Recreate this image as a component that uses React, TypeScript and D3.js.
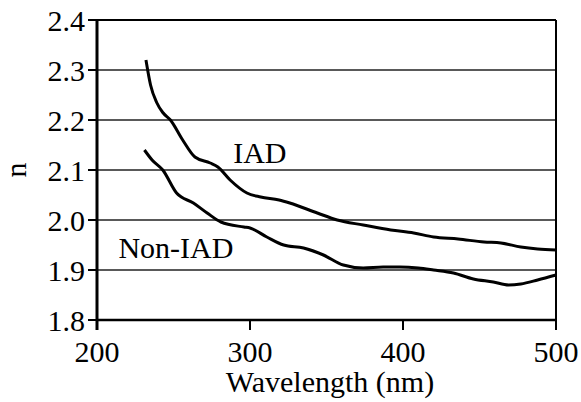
import React from "react";
import * as d3 from "d3";

// Refractive index n versus wavelength (nm)
const iadWavelength = [232, 235, 239, 243, 248, 256, 264, 274, 279, 287, 298, 307, 319, 326, 344, 357, 374, 392, 407, 420, 436, 453, 464, 477, 488, 500];
const iadN = [2.32, 2.27, 2.235, 2.215, 2.2, 2.16, 2.126, 2.114, 2.106, 2.08, 2.054, 2.046, 2.04, 2.034, 2.014, 2.0, 1.99, 1.98, 1.974, 1.966, 1.962, 1.956, 1.954, 1.946, 1.942, 1.94];

const nonIadWavelength = [231, 236, 243, 252, 263, 272, 281, 296, 300, 311, 322, 335, 348, 361, 374, 387, 398, 410, 420, 433, 446, 459, 469, 477, 488, 500];
const nonIadN = [2.14, 2.12, 2.1, 2.054, 2.034, 2.014, 1.996, 1.986, 1.984, 1.966, 1.95, 1.944, 1.93, 1.91, 1.904, 1.906, 1.906, 1.904, 1.9, 1.894, 1.882, 1.876, 1.87, 1.872, 1.88, 1.89];

const xTicks = [200, 300, 400, 500];
const yTicks = [1.8, 1.9, 2.0, 2.1, 2.2, 2.3, 2.4];

const seriesLabels = [
  { text: "IAD", wavelength: 289, n: 2.114 },
  { text: "Non-IAD", wavelength: 214, n: 1.924 },
];

const W = 581;
const H = 402;
const left = 97;
const right = 556;
const top = 20;
const bottom = 320;
const FONT = "Liberation Serif";

export default function App() {
  const x = d3.scaleLinear().domain([200, 500]).range([left, right]);
  const y = d3.scaleLinear().domain([1.8, 2.4]).range([bottom, top]);

  const line = d3
    .line<[number, number]>()
    .x((d) => x(d[0]))
    .y((d) => y(d[1]))
    .curve(d3.curveMonotoneX);

  const iad = iadWavelength.map((w, i) => [w, iadN[i]] as [number, number]);
  const nonIad = nonIadWavelength.map((w, i) => [w, nonIadN[i]] as [number, number]);

  return (
    <svg
      width={W}
      height={H}
      style={{ position: "absolute", left: 0, top: 0, background: "#fff" }}
    >
      <g fontFamily={FONT} fontSize={30} fill="#000">
        {/* horizontal gridlines */}
        {yTicks.slice(1, -1).map((t) => (
          <line key={t} x1={left} x2={right} y1={y(t)} y2={y(t)} stroke="#222" strokeWidth={1.4} />
        ))}
        {/* top and right frame */}
        <line x1={left} x2={right} y1={y(2.4)} y2={y(2.4)} stroke="#000" strokeWidth={2} />
        <line x1={right} x2={right} y1={top} y2={bottom} stroke="#000" strokeWidth={2} />

        {/* axes */}
        <line x1={left} x2={left} y1={top - 1} y2={bottom + 10} stroke="#000" strokeWidth={3} />
        <line x1={left - 1} x2={right + 1} y1={bottom} y2={bottom} stroke="#000" strokeWidth={2.5} />

        {yTicks.map((t) => (
          <g key={t}>
            <line x1={left - 9} x2={left} y1={y(t)} y2={y(t)} stroke="#000" strokeWidth={2} />
            <text x={left - 12} y={y(t) + 11} textAnchor="end">
              {t.toFixed(1)}
            </text>
          </g>
        ))}
        {xTicks.map((t) => (
          <g key={t}>
            <line x1={x(t)} x2={x(t)} y1={bottom} y2={bottom + 10} stroke="#000" strokeWidth={2} />
            <text x={x(t)} y={bottom + 42} textAnchor="middle">
              {t}
            </text>
          </g>
        ))}

        <text x={330} y={392} textAnchor="middle">
          Wavelength (nm)
        </text>
        <text transform="translate(26,170) rotate(-90)" textAnchor="middle">
          n
        </text>

        <path d={line(iad) ?? ""} fill="none" stroke="#000" strokeWidth={3} strokeLinejoin="round" />
        <path d={line(nonIad) ?? ""} fill="none" stroke="#000" strokeWidth={3} strokeLinejoin="round" />

        {seriesLabels.map((l) => (
          <text key={l.text} x={x(l.wavelength)} y={y(l.n)}>
            {l.text}
          </text>
        ))}
      </g>
    </svg>
  );
}
